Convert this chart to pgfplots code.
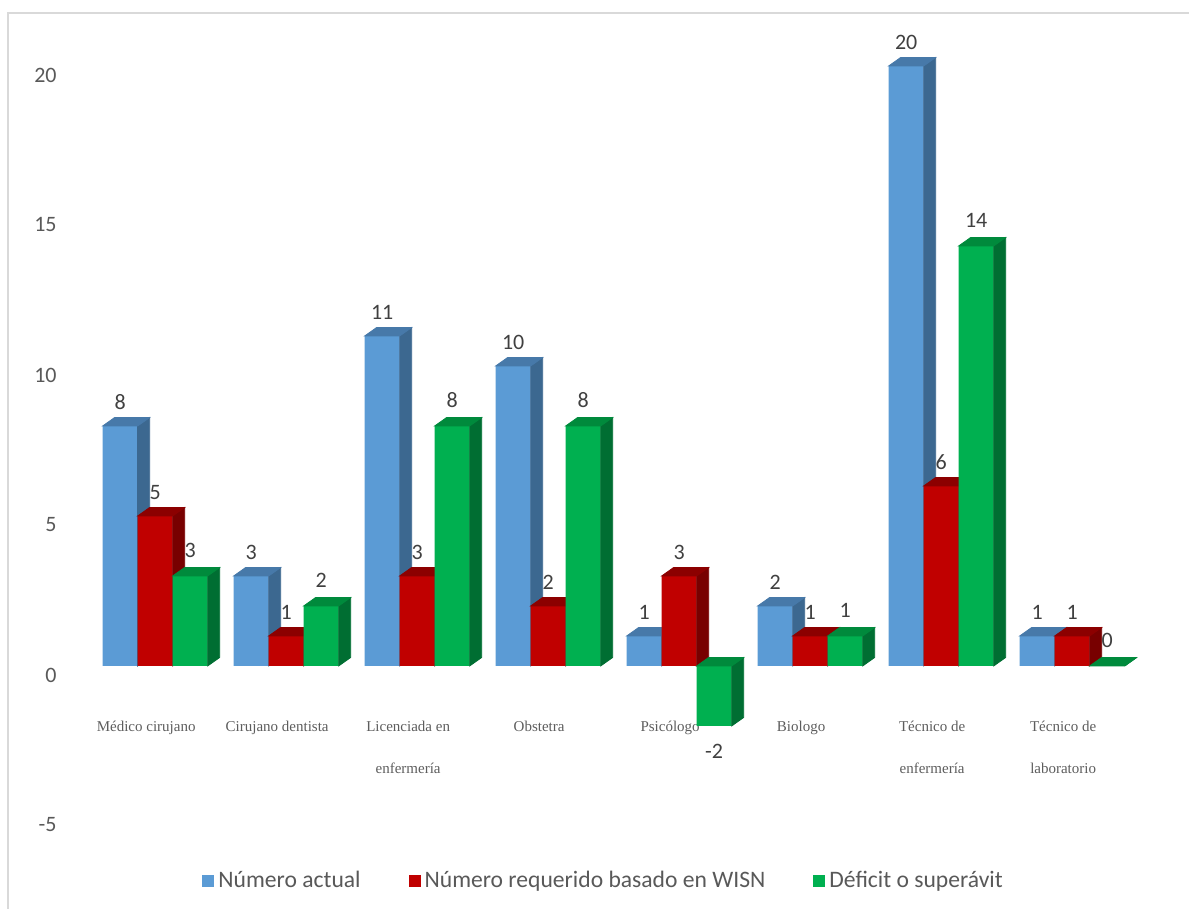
\documentclass[border=0pt]{standalone}
\usepackage{pgfplots}
\pgfplotsset{compat=1.18}
\usepackage{pgfplotstable}
\usepackage{fontspec}
\setmainfont{Carlito}
\newfontfamily\catfont{Liberation Serif}
\definecolor{blueF}{HTML}{5B9BD5}
\definecolor{blueS}{HTML}{3C6890}
\definecolor{blueT}{HTML}{4779A9}
\definecolor{redF}{HTML}{C00000}
\definecolor{redS}{HTML}{780000}
\definecolor{redT}{HTML}{8C0000}
\definecolor{greenF}{HTML}{00B050}
\definecolor{greenS}{HTML}{006E32}
\definecolor{greenT}{HTML}{008A3C}
\definecolor{txtgray}{HTML}{595959}
\definecolor{lblgray}{HTML}{404040}
\definecolor{framegray}{HTML}{D9D9D9}
\pgfplotstableread{
x blue red green
0 8 5 3
1 3 1 2
2 11 3 8
3 10 2 8
4 1 3 -2
5 2 1 1
6 20 6 14
7 1 1 0
}\datatable
\pgfdeclareplotmark{none3d}{}
\newcommand\drawthreed[3]{%
  \pgfmathsetmacro\tp{max(0,-\val*15)}%
  \pgfmathsetmacro\bt{min(0,-\val*15)}%
  \pgfmathsetmacro\L{#1-8.75}%
  \pgfmathsetmacro\R{#1+8.75}%
  \pgfmathsetmacro\Rd{\R+6}%
  \pgfmathsetmacro\Ld{\L+6}%
  \pgfmathsetmacro\tpd{\tp+4.25}%
  \pgfmathsetmacro\btd{\bt+4.25}%
  \fill[#2] (\R pt,\bt pt) -- (\Rd pt,\btd pt) -- (\Rd pt,\tpd pt) -- (\R pt,\tp pt) -- cycle;
  \fill[#3] (\L pt,\tp pt) -- (\Ld pt,\tpd pt) -- (\Rd pt,\tpd pt) -- (\R pt,\tp pt) -- cycle;
}
\begin{document}
\begin{tikzpicture}
\begin{axis}[
  x=65.5pt, y=15pt,
  xmin=-0.65, xmax=7.595, ymin=-5.5, ymax=21.5,
  clip=false,
  clip marker paths=true,
  axis line style={draw=none},
  tick style={draw=none},
  major tick length=0pt,
  ytick={-5,0,5,10,15,20},
  /pgf/number format/assume math mode=true,
  yticklabel style={font=\fontsize{11}{13}\selectfont, text=txtgray, anchor=east, inner sep=0pt, xshift=-6.5pt, yshift=-4.5pt},
  xtick={0,...,7},
  xticklabels={M\'edico cirujano, Cirujano dentista, {Licenciada en\\enfermer\'ia}, Obstetra, Psic\'ologo, Biologo, {T\'ecnico de\\enfermer\'ia}, {T\'ecnico de\\laboratorio}},
  xticklabel style={font=\catfont\fontsize{7.5}{21}\selectfont, text=lblgray!85!white, align=center, anchor=north, inner sep=0pt, yshift=55pt, xshift=-4.5pt},
  legend style={at={(0.495,-0.0617)}, anchor=center, draw=none, legend columns=-1,
    font=\fontsize{11.8}{14}\selectfont, text=txtgray,
    /tikz/every even column/.append style={column sep=22pt}},
  every node near coord/.append style={font=\fontsize{11}{13}\selectfont, text=lblgray, inner xsep=1pt, inner ysep=8pt},
]
% blue
\addplot[ybar, bar width=17.5pt, bar shift=-17.5pt, fill=blueF, draw=none,
  nodes near coords, nodes near coords align={vertical},
  every node near coord/.append style={xshift=-17.5pt},
  legend image code/.code={\fill[blueF] (0pt,-3pt) rectangle (6pt,3pt);}]
  table[x=x, y=blue] {\datatable};
\addlegendentry{N\'umero actual}
\addplot[scatter, only marks, mark=none3d, forget plot,
  visualization depends on={\thisrow{blue} \as \val},
  scatter/@pre marker code/.code={\drawthreed{-17.5}{blueS}{blueT}},
  scatter/@post marker code/.code={}]
  table[x=x, y=blue] {\datatable};
% red
\addplot[ybar, bar width=17.5pt, bar shift=0pt, fill=redF, draw=none,
  nodes near coords, nodes near coords align={vertical},
  legend image code/.code={\fill[redF] (0pt,-3pt) rectangle (6pt,3pt);}]
  table[x=x, y=red] {\datatable};
\addlegendentry{N\'umero requerido basado en WISN}
\addplot[scatter, only marks, mark=none3d, forget plot,
  visualization depends on={\thisrow{red} \as \val},
  scatter/@pre marker code/.code={\drawthreed{0}{redS}{redT}},
  scatter/@post marker code/.code={}]
  table[x=x, y=red] {\datatable};
% green
\addplot[ybar, bar width=17.5pt, bar shift=17.5pt, fill=greenF, draw=none,
  nodes near coords, nodes near coords align={vertical},
  every node near coord/.append style={xshift=17.5pt, inner ysep=9pt},
  legend image code/.code={\fill[greenF] (0pt,-3pt) rectangle (6pt,3pt);}]
  table[x=x, y=green] {\datatable};
\addlegendentry{D\'eficit o super\'avit}
\addplot[scatter, only marks, mark=none3d, forget plot,
  visualization depends on={\thisrow{green} \as \val},
  scatter/@pre marker code/.code={\drawthreed{17.5}{greenS}{greenT}},
  scatter/@post marker code/.code={}]
  table[x=x, y=green] {\datatable};
\end{axis}
\draw[framegray, line width=1pt] (-30.75pt,-45pt) -- (-30.75pt,408.75pt) -- (565pt,408.75pt);
\pgfresetboundingbox
\path[use as bounding box] (-35pt,-39pt) rectangle (559.5pt,415.5pt);
\end{tikzpicture}
\end{document}
